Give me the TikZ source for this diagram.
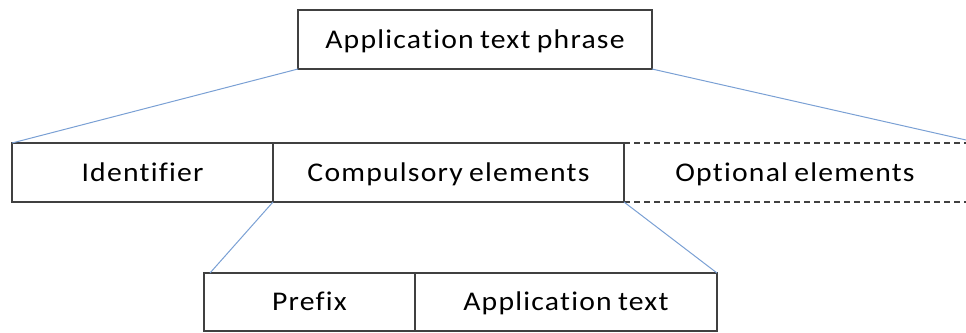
\documentclass[tikz,border=0pt]{standalone}
\usepackage{fontspec}
\setmainfont[FakeStretch=1.1, LetterSpace=4.5, WordSpace=0.8, Ligatures=NoCommon]{Carlito}
\usetikzlibrary{positioning}
\definecolor{boxgray}{RGB}{64,64,64}
\definecolor{linkblue}{RGB}{122,160,212}

\begin{document}
\begin{tikzpicture}[x=1pt,y=-1pt,
    box/.style={draw=boxgray, line width=1.4pt, minimum height=59pt,
      inner sep=0pt, outer sep=0pt, text height=17pt, text depth=0pt,
      font=\fontsize{27}{32}\selectfont},
    open/.style={box, draw=none},
    link/.style={draw=linkblue, line width=1pt}]
   \useasboundingbox (0,0) rectangle (966,332);

   % phrase at the top
   \node[box, minimum width=354pt] (phrase) at (475,39.5) {Application text phrase};

   % middle row
   \node[box, minimum width=261pt] (ident) at (142.5,172.5) {Identifier};
   \node[box, minimum width=351pt] (comp) [right=0pt of ident] {Compulsory elements};
   \node[open, minimum width=342pt] (opt) [right=0pt of comp] {Optional elements};
   \coordinate (opt_top) at (966,143);
   \coordinate (opt_bot) at (966,202);
   \draw[boxgray, line width=1.4pt, dash pattern=on 6pt off 4pt] (comp.north east) -- (opt_top);
   \draw[boxgray, line width=1.4pt, dash pattern=on 6pt off 4pt] (comp.south east) -- (opt_bot);

   % bottom row
   \node[box, minimum width=211pt, minimum height=58pt] (prefix) at (309.5,302) {Prefix};
   \node[box, minimum width=302pt, minimum height=58pt] (apptext) [right=0pt of prefix] {Application text};

   % expansion lines
   \coordinate (edge_r) at (966,140);
   \path[link]
    (phrase.south west) edge (ident.north west)
    (phrase.south east) edge (edge_r)
    (comp.south west) edge ([xshift=6pt]prefix.north west)
    (comp.south east) edge (apptext.north east);
\end{tikzpicture}
\end{document}
